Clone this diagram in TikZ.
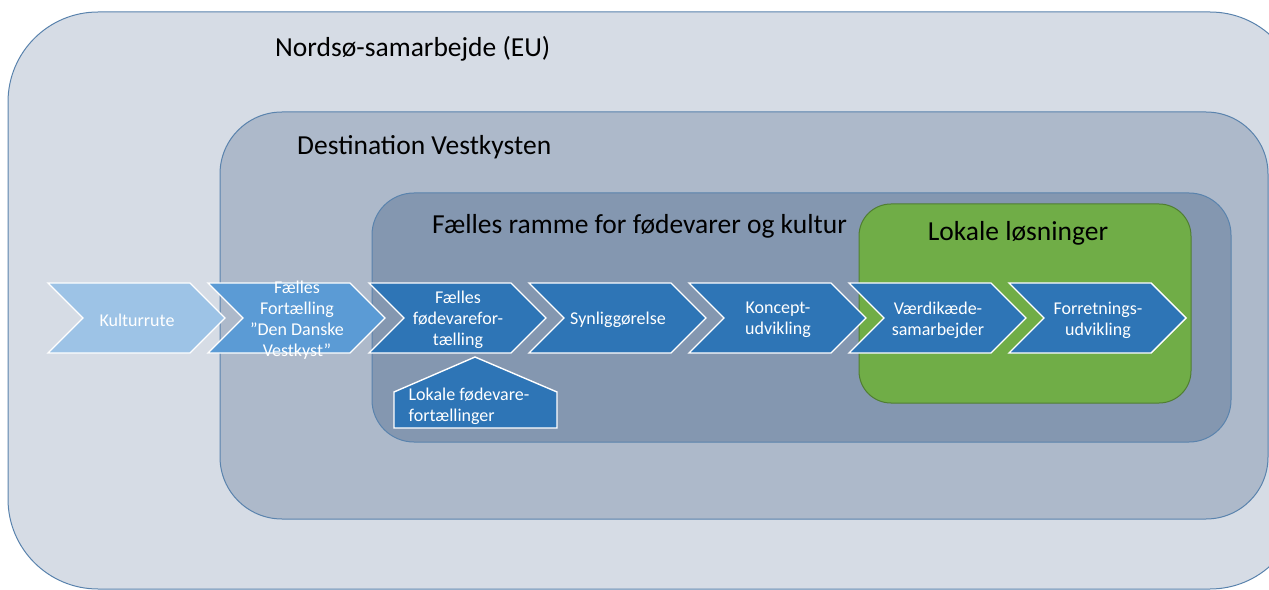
\documentclass[tikz,border=0pt]{standalone}
\usepackage{fontspec}
\setmainfont{Carlito}
\usetikzlibrary{positioning}

\definecolor{nordfill}{HTML}{D6DCE5}
\definecolor{destfill}{HTML}{ADB9CA}
\definecolor{rammefill}{HTML}{8497B0}
\definecolor{lokalfill}{HTML}{70AD47}
\definecolor{lokalline}{HTML}{507E32}
\definecolor{boxline}{HTML}{5A83AD}
\definecolor{chevlight}{HTML}{9DC3E6}
\definecolor{chevmid}{HTML}{5B9BD5}
\definecolor{chevdark}{HTML}{2E75B6}

\begin{document}
\begin{tikzpicture}[x=1bp, y=-1bp]
 \tikzstyle{area}=[draw=boxline, line width=1bp]
 \tikzstyle{chev}=[draw=white, line width=1.4bp, line join=miter]
 \tikzstyle{chevtext}=[text=white, align=center, font=\fontsize{18bp}{21bp}\selectfont]
 \tikzstyle{areatitle}=[anchor=west, inner sep=0pt, font=\fontsize{27.5bp}{32bp}\selectfont]

 \useasboundingbox (0,0) rectangle (1269,590);
 \clip (0,0) rectangle (1269,590);

 % nested areas
 \draw[area, fill=nordfill, rounded corners=90bp] (8,12) rectangle (1300,589);
 \draw[area, fill=destfill, rounded corners=62bp] (220,112) rectangle (1268,519);
 \draw[area, fill=rammefill, rounded corners=42bp] (372,193) rectangle (1231,442);
 \draw[draw=lokalline, line width=1bp, fill=lokalfill, rounded corners=32bp] (859,204) rectangle (1191,403);

 \node (nordsoe) at (275,49) [areatitle] {Nordsø-samarbejde (EU)};
 \node (destination) at (297,147) [areatitle] {Destination Vestkysten};
 \node (ramme) at (432,226) [areatitle] {Fælles ramme for fødevarer og kultur};
 \node (loesninger) at (1018,233) [areatitle, anchor=center] {Lokale løsninger};

 % value chain
 \foreach \x/\c/\n/\t in {48/chevlight/kulturrute/{Kulturrute},
   208/chevmid/fortaelling/{Fælles\\Fortælling\\”Den Danske\\Vestkyst”},
   369/chevdark/foedevare/{Fælles\\fødevarefor-\\tælling},
   529/chevdark/synlig/{Synliggørelse},
   689/chevdark/koncept/{Koncept-\\udvikling},
   849/chevdark/vaerdi/{Værdikæde-\\samarbejder},
   1009/chevdark/forretning/{Forretnings-\\udvikling}}
 {
   \draw[chev, fill=\c] (\x,283) -- ++(142,0) -- ++(35,35) -- ++(-35,35) -- ++(-142,0) -- ++(35,-35) -- cycle;
   \node (\n) at (\x+89,320) [chevtext] {\t};
 }

 \draw[chev, fill=chevdark] (394,392) -- (475,357) -- (557,392) -- (557,428) -- (394,428) -- cycle;
 \node (lokalefoede) at (469,406) [chevtext, align=left] {Lokale fødevare-\\fortællinger};

\end{tikzpicture}
\end{document}
